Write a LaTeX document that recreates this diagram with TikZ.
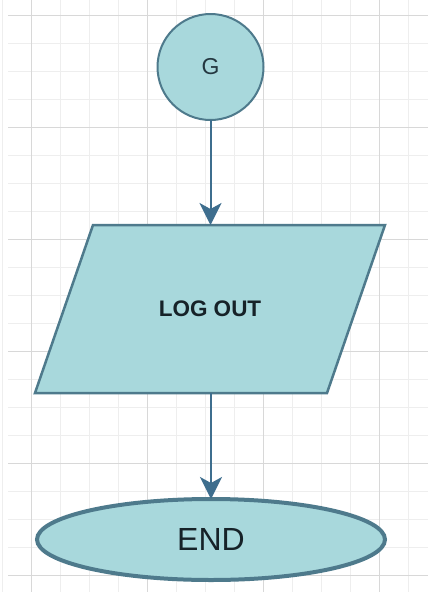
\documentclass[tikz,border=0pt]{standalone}
\usepackage{fontspec}
\setmainfont{Liberation Sans}
\usetikzlibrary{shapes.geometric,arrows.meta}
\definecolor{shapefill}{RGB}{168,216,220}
\definecolor{shapeline}{RGB}{78,122,140}
\definecolor{arrowblue}{RGB}{62,110,142}
\definecolor{gridminor}{RGB}{238,238,238}
\definecolor{gridmajor}{RGB}{216,216,216}
\definecolor{labeltext}{RGB}{22,34,40}
\begin{document}
\begin{tikzpicture}[x=1pt,y=-1pt,
  flowshape/.style={fill=shapefill,draw=shapeline,inner sep=0pt,outer sep=0pt},
  startnode/.style={flowshape,circle,line width=2pt,minimum size=106pt,
    font=\fontsize{23}{23}\selectfont,text=labeltext!75!shapeline},
  iobox/.style={inner sep=0pt,outer sep=0pt,minimum width=292pt,minimum height=168pt,
    font=\fontsize{22.5}{22.5}\selectfont\bfseries,text=labeltext},
  ioshape/.style={flowshape,line width=2.5pt,line join=miter},
  endnode/.style={flowshape,ellipse,line width=4pt,minimum width=348pt,minimum height=81pt,
    font=\fontsize{32}{32}\selectfont,text=labeltext},
  flowarrow/.style={draw=arrowblue,line width=2pt,
    -{Stealth[length=22pt,width=22pt,inset=6pt,fill=arrowblue]}}]
\fill[white] (0,0) rectangle (428,592);
\useasboundingbox (0,0) rectangle (428,592);
% background grid: light minor lines, darker major lines every fourth
\foreach \x in {2,31,...,408} \draw[gridminor,line width=1pt] (\x,0) -- (\x,592);
\foreach \y in {15,43,...,591} \draw[gridminor,line width=1pt] (8,\y) -- (428,\y);
\foreach \x in {31,147,263,379} \draw[gridmajor,line width=1pt] (\x,0) -- (\x,592);
\foreach \y in {15,127,239,351,463,575} \draw[gridmajor,line width=1pt] (8,\y) -- (428,\y);
% flowchart
\node[startnode] (g) at (210.5,67) {G};
% input/output parallelogram, drawn around its node
\path[ioshape]
  ([shift={(-117,-84)}]210,309) -- ([shift={(175,-84)}]210,309)
  -- ([shift={(117,84)}]210,309) -- ([shift={(-175,84)}]210,309) -- cycle;
\node[iobox] (logout) at (210,309) {LOG OUT};
\node[endnode] (end) at (211,539.5) {END};
\draw[flowarrow] (g.south) -- (g.south |- logout.north);
\draw[flowarrow] (logout.south -| end.north) -- (end.north);
\end{tikzpicture}
\end{document}
